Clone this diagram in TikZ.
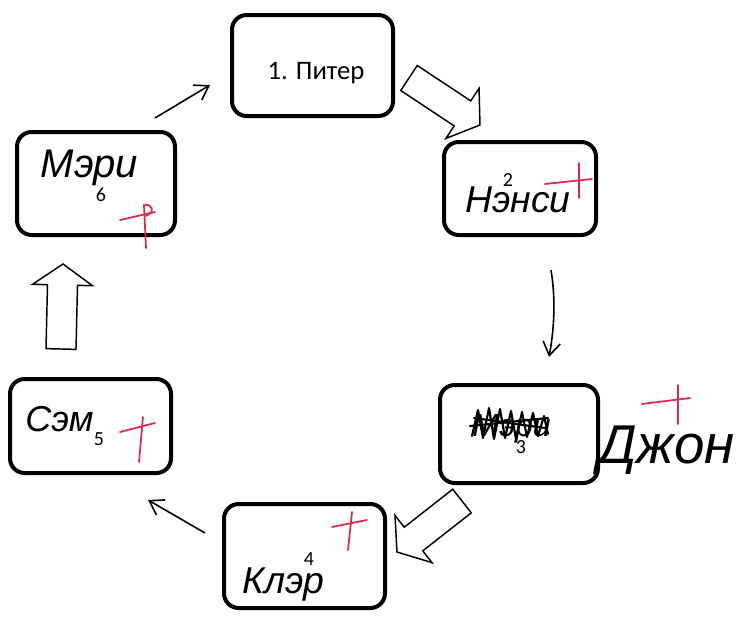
\documentclass[tikz,border=0pt]{standalone}
\usepackage{fontspec}
\setmainfont{Carlito}
\newfontfamily\hand{Liberation Sans}
\usetikzlibrary{arrows.meta,calc}
\definecolor{crossred}{RGB}{226,38,78}
\tikzset{
  box/.style={draw, line width=3pt, rounded corners=11pt, inner sep=0pt, fill=white},
  thinarr/.style={line width=1.2pt, -{Straight Barb[length=10pt,width=13pt,line width=1.2pt]}},
  blockarr/.style={draw, line width=1.1pt, fill=white, line join=miter},
  cross/.style={draw=crossred, line width=1.3pt, line cap=round},
  handtxt/.style={font=\hand\itshape\fontsize{30}{30}\selectfont, anchor=base west, inner sep=0pt},
  numtxt/.style={font=\fontsize{15}{15}\selectfont, inner sep=0pt},
  scrib/.style={line width=1.6pt, line join=round, line cap=round}
}
\newcommand\blockarrow[2]{%
  \coordinate (h) at ($(#2)!15.75pt!(#1)$);
  \draw[blockarr] ($(#1)!11.25pt!90:(#2)$) -- ($(h)!11.25pt!90:(#2)$) -- ($(h)!22.5pt!90:(#2)$)
    -- (#2) -- ($(h)!22.5pt!-90:(#2)$) -- ($(h)!11.25pt!-90:(#2)$) -- ($(#1)!11.25pt!-90:(#2)$) -- cycle;
}
\begin{document}
\begin{tikzpicture}[x=0.75pt,y=-0.75pt]
\useasboundingbox (0,0) rectangle (747,619);
% boxes
\node[box, minimum width=161*0.75pt, minimum height=101*0.75pt] (piter) at (312.5,65.5) {};
\node[box, minimum width=158*0.75pt, minimum height=103*0.75pt] (mary) at (96,183.5) {};
\node[box, minimum width=152*0.75pt, minimum height=93*0.75pt] (nancy) at (520,188.5) {};
\node[box, minimum width=158*0.75pt, minimum height=98*0.75pt] (john) at (519,434) {};
\node[box, minimum width=161*0.75pt, minimum height=104*0.75pt] (claire) at (304.5,556) {};
\node[box, minimum width=161*0.75pt, minimum height=94*0.75pt] (sam) at (90.5,426) {};

% printed texts
\node[font=\fontsize{20}{20}\selectfont, inner sep=0pt] (t1) at (316,73) {1. Питер};
\node[numtxt] (n6) at (101,195) {6};
\node[numtxt] (n2) at (508,180) {2};
\node[numtxt] (n3) at (521,447) {3};
\node[numtxt] (n4) at (309,559) {4};
\node[numtxt] (n5) at (99,439) {5};

% handwritten texts
\node[handtxt] (hmary) at (40,177) {Мэри};
\node[handtxt, font=\hand\itshape\fontsize{28}{28}\selectfont] (hnancy) at (465,212) {Нэнси};
\node[handtxt, font=\hand\itshape\fontsize{27}{27}\selectfont] (hsam) at (25,431) {Сэм};
\node[handtxt, font=\hand\itshape\fontsize{28}{28}\selectfont] (hclaire) at (242,593) {Клэр};
\node[handtxt, font=\hand\itshape\fontsize{41}{41}\selectfont] (hjohn) at (598,463) {Джон};
\node[handtxt, font=\hand\itshape\fontsize{24}{24}\selectfont] (hold) at (472,436) {Мэри};
% scribble over old name
\draw[scrib] (472,436) -- (478,410) -- (483,438) -- (489,408) -- (494,439) -- (500,409) -- (505,438)
  -- (511,411) -- (516,439) -- (522,412) -- (527,437) -- (533,413) -- (538,436) -- (544,416) -- (548,434);
\draw[scrib] (470,426) -- (548,418);
\draw[scrib] (474,418) -- (545,428);

% thin arrows
\coordinate (a1s) at (155,118); \coordinate (a1e) at (210,85);
\draw[thinarr] (a1s) -- (a1e);
\coordinate (a2s) at (551,270); \coordinate (a2e) at (549,357);
\draw[thinarr] (a2s) .. controls (556,300) and (554,330) .. (a2e);
\coordinate (a3s) at (205,533); \coordinate (a3e) at (148,500);
\draw[thinarr] (a3s) -- (a3e);

% block arrows
\coordinate (b1s) at (409,78); \coordinate (b1e) at (480,125);
\blockarrow{b1s}{b1e}
\coordinate (b2s) at (462,501); \coordinate (b2e) at (397,552);
\blockarrow{b2s}{b2e}
\coordinate (b3s) at (61,349); \coordinate (b3e) at (63,264);
\blockarrow{b3s}{b3e}

% red crosses
\draw[cross] (120,220) -- (155,212);
\draw[cross] (144,205) .. controls (152,203) and (156,212) .. (146,216);
\draw[cross] (144,205) -- (146,248);
\draw[cross] (545,184) -- (592,179);
\draw[cross] (579,163) -- (579,198);
\draw[cross] (642,404) -- (690,398);
\draw[cross] (678,385) -- (678,424);
\draw[cross] (332,527) -- (367,520);
\draw[cross] (352,512) -- (348,550);
\draw[cross] (120,432) -- (155,423);
\draw[cross] (143,417) -- (139,462);
\end{tikzpicture}
\end{document}
